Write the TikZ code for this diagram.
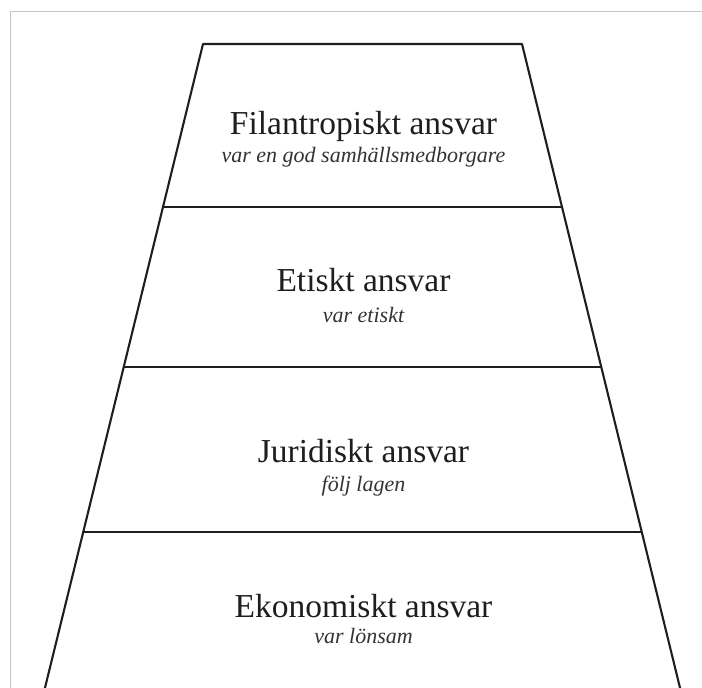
\documentclass[tikz,border=0pt]{standalone}
\usepackage{fontspec}
\setmainfont{Liberation Serif}
\definecolor{frame}{HTML}{C4C4C4}
\definecolor{ink}{HTML}{1E1E1E}
\definecolor{subink}{HTML}{333333}
\tikzset{
  edge/.style={draw=ink, line width=2.1pt, line join=round},
  title/.style={anchor=base, inner sep=0pt, text=ink, font=\fontsize{33.5}{38}\selectfont},
  subtitle/.style={anchor=base, inner sep=0pt, text=subink, font=\fontsize{22}{26}\selectfont\itshape}
}
\begin{document}
\begin{tikzpicture}[x=1pt,y=-1pt]
\useasboundingbox (0,0) rectangle (702,688);
\clip (0,0) rectangle (702,688);
% outer frame
\draw[frame, line width=1pt] (10,700) -- (10,11) -- (710,11);
% corners of the pyramid
\coordinate (tl) at (203,44);
\coordinate (tr) at (522,44);
\coordinate (l1) at (163.0,207);
\coordinate (r1) at (562.0,207);
\coordinate (l2) at (123.8,367);
\coordinate (r2) at (601.2,367);
\coordinate (l3) at (83.3,532);
\coordinate (r3) at (641.7,532);
\coordinate (bl) at (42.5,698);
\coordinate (br) at (682.5,698);
\draw[edge] (bl) -- (tl) -- (tr) -- (br);
\draw[edge] (l1) -- (r1);
\draw[edge] (l2) -- (r2);
\draw[edge] (l3) -- (r3);
% labels
\node[title] (t1) at (363.5,134) {Filantropiskt ansvar};
\node[subtitle] (s1) at (363.5,162) {var en god samhällsmedborgare};
\node[title] (t2) at (363.5,291) {Etiskt ansvar};
\node[subtitle] (s2) at (363.5,322) {var etiskt};
\node[title] (t3) at (363.5,462) {Juridiskt ansvar};
\node[subtitle] (s3) at (363.5,491) {följ lagen};
\node[title] (t4) at (363.5,617) {Ekonomiskt ansvar};
\node[subtitle] (s4) at (363.5,643) {var lönsam};
\end{tikzpicture}
\end{document}
